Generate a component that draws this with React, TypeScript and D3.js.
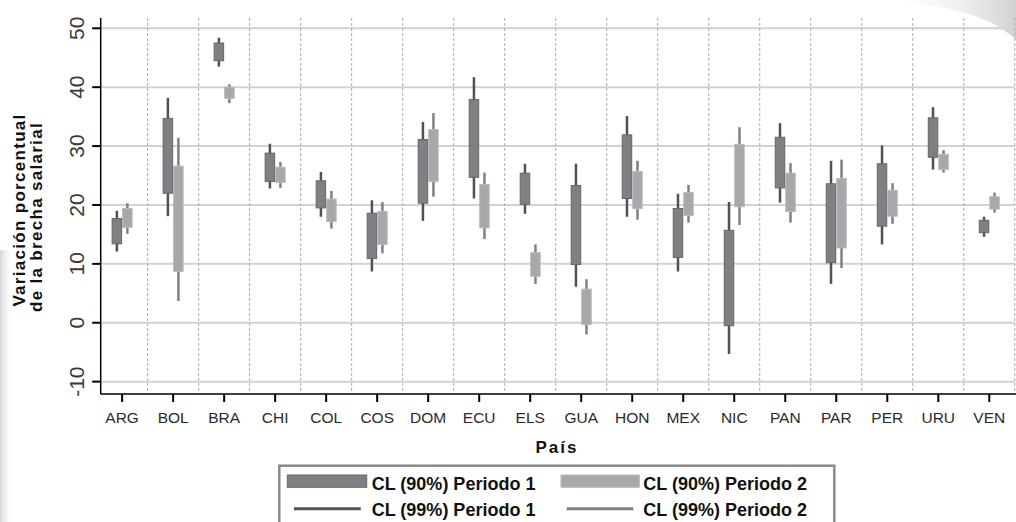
import React from "react";
import * as d3 from "d3";

const countries = ["ARG","BOL","BRA","CHI","COL","COS","DOM","ECU","ELS","GUA","HON","MEX","NIC","PAN","PAR","PER","URU","VEN"];
// Periodo 1: CL 90% (box) and CL 99% (whisker)
const p1BoxLow  = [13.4,22.0,44.5,24.0,19.5,10.9,20.3,24.7,20.1,9.9,21.1,11.1,-0.5,22.9,10.2,16.4,28.1,15.3];
const p1BoxHigh = [17.7,34.7,47.5,28.8,24.1,18.6,31.1,37.9,25.4,23.3,31.9,19.4,15.7,31.5,23.6,27.0,34.8,17.4];
const p1WhLow   = [12.1,18.1,43.5,22.8,18.0,8.7,17.3,21.1,18.5,6.1,18.0,8.7,-5.3,20.4,6.6,13.3,26.0,14.6];
const p1WhHigh  = [19.0,38.2,48.4,30.4,25.6,20.8,34.1,41.7,27.0,27.0,35.1,21.9,20.5,33.9,27.5,30.1,36.6,18.0];
// Periodo 2
const p2BoxLow  = [16.2,8.7,38.1,23.8,17.2,13.3,24.0,16.1,7.9,-0.3,19.4,18.2,19.7,18.9,12.7,18.1,26.0,19.3];
const p2BoxHigh = [19.4,26.6,40.0,26.4,21.0,18.9,32.8,23.5,11.9,5.7,25.7,22.1,30.3,25.4,24.5,22.5,28.6,21.4];
const p2WhLow   = [15.1,3.7,37.3,22.9,16.0,11.8,21.4,14.2,6.6,-2.0,17.5,17.0,16.6,17.0,9.3,16.8,25.5,18.7];
const p2WhHigh  = [20.3,31.4,40.5,27.3,22.4,20.5,35.6,25.5,13.3,7.4,27.5,23.4,33.2,27.1,27.7,23.7,29.3,22.1];

const yTicks = [-10, 0, 10, 20, 30, 40, 50];
const legendItems = ["CL (90%) Periodo 1", "CL (90%) Periodo 2", "CL (99%) Periodo 1", "CL (99%) Periodo 2"];

const P1_FILL = "#7f8084", P1_STROKE = "#65666a", P1_LINE = "#505154";
const P2_FILL = "#a7a8ab", P2_STROKE = "#b9babc", P2_LINE = "#7f8083";

export default function App() {
  const W = 1016, H = 522;
  const left = 100.7, right = 1014.8, top = 18, bottom = 394;
  const x = d3.scaleLinear().domain([-0.42, countries.length - 0.5]).range([left, right]);
  const y = d3.scaleLinear().domain([-12.1, 51.75]).range([bottom, top]);
  const halfGap = 0.5, bw = 9.5;
  const font = "'Liberation Sans', Arial, Helvetica, sans-serif";

  const series = [
    { lo: p1BoxLow, hi: p1BoxHigh, wl: p1WhLow, wh: p1WhHigh, fill: P1_FILL, stroke: P1_STROKE, line: P1_LINE, side: -1 },
    { lo: p2BoxLow, hi: p2BoxHigh, wl: p2WhLow, wh: p2WhHigh, fill: P2_FILL, stroke: P2_STROKE, line: P2_LINE, side: 1 },
  ];

  return (
    <svg width={W} height={H} style={{ position: "absolute", left: 0, top: 0, display: "block" }} fontFamily={font}>
      <defs>
        <linearGradient id="leftShade" x1="0" x2="1" y1="0" y2="0">
          <stop offset="0" stopColor="#c4c4c4" />
          <stop offset="1" stopColor="#ffffff" stopOpacity="0" />
        </linearGradient>
        <linearGradient id="curl" x1="0" x2="1" y1="0" y2="0">
          <stop offset="0" stopColor="#ffffff" stopOpacity="0" />
          <stop offset="1" stopColor="#bdbdbd" />
        </linearGradient>
      </defs>
      <rect x={0} y={0} width={W} height={H} fill="#ffffff" />
      {/* scan artefacts */}
      <path d="M0,250 L14,250 L14,522 L0,522 Z" fill="url(#leftShade)" opacity={0.7} />
      <path d="M880,0 C940,4 990,14 1016,40 L1016,0 Z" fill="url(#curl)" opacity={0.7} />

      {/* horizontal grid */}
      {yTicks.map(t => (
        <line key={"g" + t} x1={left} x2={right} y1={y(t)} y2={y(t)} stroke="#d2d2d2" strokeWidth={2} />
      ))}
      {/* vertical dashed separators */}
      {countries.map((c, i) => (
        <line key={"v" + c} x1={x(i + 0.5)} x2={x(i + 0.5)} y1={top} y2={bottom} stroke="#ababab" strokeWidth={1} strokeDasharray="3,2" />
      ))}

      {/* whiskers */}
      {series.map((s, si) => countries.map((c, i) => {
        const cx = x(i) + s.side * (halfGap + bw / 2);
        return <line key={"w" + si + c} x1={cx} x2={cx} y1={y(s.wl[i])} y2={y(s.wh[i])} stroke={s.line} strokeWidth={2.5} />;
      }))}
      {/* boxes */}
      {series.map((s, si) => countries.map((c, i) => {
        const x0 = s.side < 0 ? x(i) - halfGap - bw : x(i) + halfGap;
        return <rect key={"b" + si + c} x={x0} y={y(s.hi[i])} width={bw} height={y(s.lo[i]) - y(s.hi[i])} fill={s.fill} stroke={s.stroke} strokeWidth={1} />;
      }))}

      {/* axes */}
      <line x1={left} x2={left} y1={top} y2={bottom} stroke="#000" strokeWidth={1.5} />
      <line x1={left} x2={right + 2} y1={bottom} y2={bottom} stroke="#000" strokeWidth={1.5} />
      {yTicks.map(t => (
        <g key={"yt" + t}>
          <line x1={left - 8.5} x2={left} y1={y(t)} y2={y(t)} stroke="#000" strokeWidth={2} />
          <text transform={`translate(83.5,${y(t)}) rotate(-90)`} textAnchor="middle" fontSize={21} fill="#3a3a3a">{t}</text>
        </g>
      ))}
      {countries.map((c, i) => (
        <g key={"xt" + c}>
          <line x1={x(i)} x2={x(i)} y1={bottom} y2={bottom + 8} stroke="#000" strokeWidth={2} />
          <text x={x(i)} y={422.7} textAnchor="middle" fontSize={15.5} fill="#2a2a2a">{c}</text>
        </g>
      ))}

      {/* axis titles */}
      <text x={557} y={452.5} textAnchor="middle" fontSize={17} fontWeight="bold" letterSpacing={2} fill="#111">País</text>
      <text transform="translate(25,210) rotate(-90)" textAnchor="middle" fontSize={17} fontWeight="bold" letterSpacing={1.3} fill="#111">Variación porcentual</text>
      <text transform="translate(41.7,217) rotate(-90)" textAnchor="middle" fontSize={17} fontWeight="bold" letterSpacing={1.3} fill="#111">de la brecha salarial</text>

      {/* legend */}
      <rect x={279.3} y={465.7} width={555} height={70} fill="#fff" stroke="#8a8a8a" strokeWidth={2.5} />
      <rect x={287.3} y={475} width={79.4} height={12.3} fill={P1_FILL} stroke={P1_STROKE} strokeWidth={1} />
      <text x={371.7} y={489.7} fontSize={18} fontWeight="bold" fill="#111">{legendItems[0]}</text>
      <rect x={561} y={475} width={78.3} height={12.3} fill={P2_FILL} stroke={P2_STROKE} strokeWidth={1} />
      <text x={643.3} y={489.7} fontSize={18} fontWeight="bold" fill="#111">{legendItems[1]}</text>
      <line x1={294} x2={360.7} y1={508.7} y2={508.7} stroke={P1_LINE} strokeWidth={3} />
      <text x={371.7} y={515.5} fontSize={18} fontWeight="bold" fill="#111">{legendItems[2]}</text>
      <line x1={566.7} x2={633.3} y1={508.7} y2={508.7} stroke={P2_LINE} strokeWidth={3} />
      <text x={643.3} y={515.5} fontSize={18} fontWeight="bold" fill="#111">{legendItems[3]}</text>
    </svg>
  );
}
